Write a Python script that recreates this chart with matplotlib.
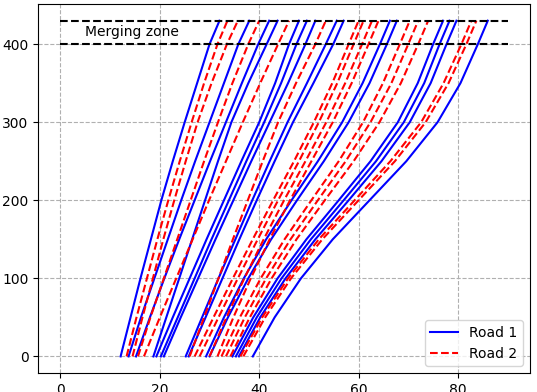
import matplotlib
matplotlib.use("Agg")
import matplotlib.pyplot as plt

positions = [0, 50, 100, 150, 200, 250, 300, 350, 400, 430]

# time (s) at which each vehicle reaches those positions
road1_times = [
    [12.1, 14.1, 16.1, 18.2, 20.3, 22.6, 25.0, 27.5, 30.0, 32.0],
    [13.7, 16.2, 18.9, 21.6, 24.3, 27.1, 30.0, 32.9, 35.8, 38.0],
    [15.2, 18.0, 20.9, 23.9, 27.0, 30.1, 33.3, 36.5, 39.8, 42.0],
    [18.7, 21.3, 23.9, 26.5, 29.1, 31.7, 34.4, 37.8, 41.5, 43.7],
    [19.3, 22.6, 26.0, 29.4, 32.9, 36.4, 40.0, 43.2, 46.0, 48.0],
    [20.2, 23.6, 27.0, 30.4, 33.9, 37.4, 41.0, 44.4, 47.5, 49.6],
    [20.8, 24.2, 27.7, 31.2, 34.8, 38.4, 42.1, 45.8, 49.3, 51.3],
    [25.2, 28.5, 31.8, 35.2, 38.6, 42.1, 45.7, 49.6, 53.4, 55.6],
    [25.8, 29.2, 32.6, 36.0, 39.5, 43.1, 46.8, 50.9, 54.9, 57.0],
    [29.3, 32.9, 36.9, 41.4, 46.5, 51.8, 56.7, 60.8, 64.3, 66.3],
    [30.0, 33.7, 37.8, 42.4, 47.6, 53.0, 58.0, 62.2, 65.7, 67.7],
    [34.6, 38.8, 43.7, 49.5, 56.0, 62.4, 67.9, 71.9, 75.0, 77.0],
    [35.3, 39.5, 44.5, 50.4, 57.0, 63.5, 69.1, 73.2, 76.3, 78.3],
    [35.9, 40.2, 45.3, 51.3, 58.0, 64.6, 70.3, 74.5, 77.7, 79.7],
    [38.7, 43.1, 48.4, 54.8, 62.2, 69.6, 75.9, 80.5, 84.0, 86.0],
]

road2_times = [
    [13.3, 15.3, 17.4, 19.5, 21.7, 24.0, 26.4, 28.9, 31.6, 33.6],
    [14.5, 16.5, 18.6, 20.7, 22.9, 25.2, 27.6, 30.4, 33.5, 35.7],
    [15.6, 18.1, 20.8, 23.5, 26.2, 28.9, 31.7, 34.6, 37.8, 40.0],
    [16.8, 20.0, 23.3, 26.6, 29.9, 33.3, 36.7, 40.2, 43.8, 46.0],
    [26.0, 28.9, 31.8, 34.7, 37.7, 40.7, 43.8, 47.4, 51.3, 53.4],
    [27.0, 30.8, 34.7, 38.7, 42.8, 47.0, 51.0, 54.7, 58.0, 60.0],
    [28.0, 31.8, 35.7, 39.7, 43.8, 48.0, 52.0, 55.7, 59.0, 61.0],
    [30.0, 33.4, 37.0, 40.9, 45.0, 49.3, 53.5, 57.3, 60.7, 62.7],
    [31.6, 34.8, 38.3, 42.1, 46.2, 50.5, 54.8, 58.6, 62.0, 64.0],
    [32.4, 36.1, 40.3, 45.1, 50.5, 56.0, 60.9, 64.9, 68.3, 70.3],
    [33.3, 37.1, 41.4, 46.3, 51.8, 57.4, 62.4, 66.6, 70.0, 72.0],
    [34.2, 38.1, 42.5, 47.5, 53.2, 59.0, 64.2, 68.5, 72.0, 74.0],
    [36.2, 40.6, 45.8, 52.0, 59.2, 66.4, 72.6, 77.1, 80.7, 82.7],
    [36.8, 41.2, 46.4, 52.7, 60.0, 67.3, 73.5, 78.1, 81.7, 83.7],
]

zone_start = 400
zone_end = 430
zone_t = [0, 90]

fig = plt.figure(figsize=(5.37, 3.92), dpi=100)
ax = fig.add_axes([0.071, 0.048, 0.916, 0.942])

for i, t in enumerate(road1_times):
    ax.plot(t, positions, 'b-', label='Road 1' if i == 0 else None)
for i, t in enumerate(road2_times):
    ax.plot(t, positions, 'r--', label='Road 2' if i == 0 else None)

ax.plot(zone_t, [zone_start, zone_start], 'k--')
ax.plot(zone_t, [zone_end, zone_end], 'k--')
ax.text(5, 410, 'Merging zone', fontsize=10)

ax.grid(True, linestyle='--')
ax.legend(loc='lower right')

fig.savefig('out.png')
